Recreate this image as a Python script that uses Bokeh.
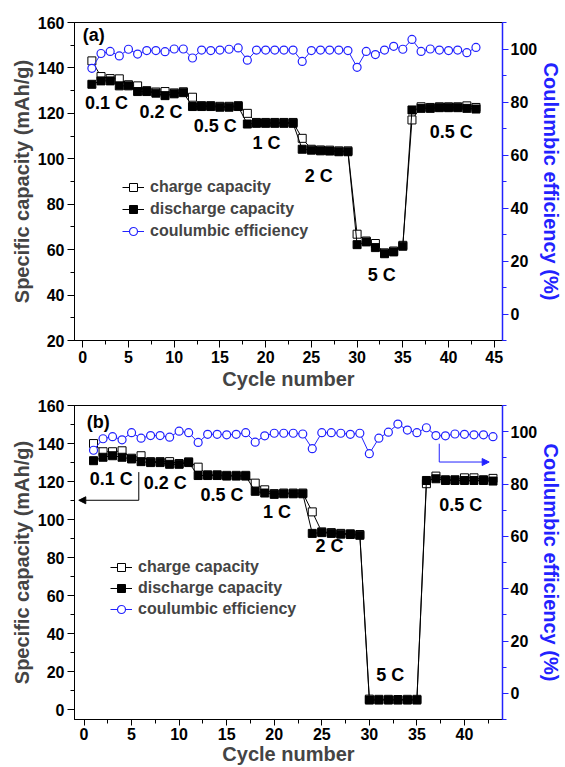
from bokeh.plotting import figure
from bokeh.models import Range1d, LinearAxis, SingleIntervalTicker, Arrow, NormalHead
from bokeh.layouts import column
from bokeh.core.properties import value
from bokeh.embed import file_html
from bokeh.resources import INLINE

cycles = list(range(1, 44))

# ---- panel (a) ----
a_charge = [143.1, 136.2, 135.3, 135.2, 132.6, 132.1, 130.0, 129.4, 129.6, 129.0, 129.5,
            127.1, 123.4, 123.4, 123.1, 123.1, 123.4,
            120.0, 116.0, 116.0, 116.0, 116.0, 116.0,
            109.0, 104.2, 103.9, 103.8, 103.5, 103.5,
            66.8, 63.8, 62.7, 58.6, 59.4, 61.9,
            117.1, 122.9, 122.6, 122.9, 122.9, 122.9, 123.3, 122.6]
a_discharge = [132.8, 134.3, 134.3, 132.1, 132.1, 129.6, 129.6, 128.9, 127.8, 128.6, 129.1,
               123.0, 123.0, 123.0, 122.7, 122.7, 123.0,
               115.3, 115.6, 115.6, 115.6, 115.6, 115.6,
               104.2, 103.8, 103.5, 103.4, 103.1, 103.1,
               62.2, 63.4, 60.9, 58.2, 59.0, 61.5,
               121.5, 122.2, 122.2, 122.5, 122.5, 122.5, 122.2, 121.9]
a_ce = [92.7, 98.3, 99.1, 97.4, 99.9, 98.1, 99.4, 99.4, 99.0, 100.0, 100.0,
        96.6, 99.6, 99.4, 99.6, 99.9, 100.4,
        95.8, 99.6, 99.6, 99.6, 99.6, 99.6,
        95.3, 99.4, 99.6, 99.6, 99.6, 99.4,
        93.1, 99.1, 97.9, 99.6, 101.0, 99.9,
        103.6, 99.1, 100.0, 99.6, 99.4, 99.6, 98.6, 100.6]
a_label_text = ["(a)", "0.1 C", "0.2 C", "0.5 C", "1 C", "2 C", "5 C", "0.5 C"]
a_label_x = [1.2, 2.6, 8.55, 14.5, 20.1, 25.8, 32.7, 40.3]
a_label_y = [154.6, 124.6, 120.6, 114.4, 106.9, 92.4, 48.7, 111.8]

# ---- panel (b) ----
b_charge = [140.0, 135.7, 135.7, 136.2, 132.3, 133.6, 130.5, 130.5, 130.5, 129.5, 130.4,
            127.6, 123.6, 123.6, 123.3, 123.3, 123.3,
            119.2, 115.7, 113.7, 114.0, 114.0, 114.0,
            104.1, 93.6, 93.2, 92.8, 92.6, 92.2,
            5.7, 5.6, 5.6, 5.5, 5.6, 5.6,
            118.9, 122.9, 121.0, 121.0, 122.0, 122.0, 121.0, 121.7]
b_discharge = [131.0, 132.8, 133.6, 132.8, 131.9, 130.5, 130.0, 130.0, 129.1, 129.1, 130.0,
               123.2, 123.2, 123.2, 122.9, 122.9, 122.9,
               114.9, 114.0, 113.3, 113.6, 113.6, 113.6,
               92.8, 93.2, 92.8, 92.4, 92.2, 91.8,
               5.2, 5.2, 5.2, 5.2, 5.2, 5.2,
               120.6, 121.5, 120.6, 120.6, 120.6, 120.6, 120.6, 120.3]
b_ce = [92.9, 97.3, 98.1, 96.9, 99.6, 97.5, 98.5, 98.5, 97.9, 100.2, 99.6,
        95.9, 99.0, 99.0, 98.8, 99.0, 99.6,
        96.0, 98.4, 99.4, 99.4, 99.4, 99.1,
        93.5, 99.6, 99.6, 99.4, 99.0, 99.4,
        91.6, 97.5, 99.8, 102.9, 100.6, 99.6,
        101.5, 98.5, 98.4, 99.1, 99.0, 98.8, 98.8, 98.1]
b_label_text = ["(b)", "0.1 C", "0.2 C", "0.5 C", "1 C", "2 C", "5 C", "0.5 C"]
b_label_x = [1.5, 2.87, 8.55, 14.5, 20.3, 25.8, 32.2, 39.6]
b_label_y = [151.5, 121.4, 119.2, 112.8, 104.1, 86.3, 18.2, 107.6]

# arrows in panel (b): left arrow (capacity axis), right arrow (efficiency axis)
b_arrow_left_x = [5.76, 5.76, -0.55]
b_arrow_left_y = [125.0, 110.2, 110.2]
b_arrow_right_x = [37.35, 37.35, 42.6]
b_arrow_right_y = [95.4, 88.4, 88.4]

FONT = "Liberation Sans"
BLUE = "#2222ff"


def style_axis(ax, color="black"):
    ax.axis_line_color = color
    ax.major_tick_line_color = color
    ax.minor_tick_line_color = color
    ax.major_tick_in = 0
    ax.major_tick_out = 7
    ax.minor_tick_in = 0
    ax.minor_tick_out = 4
    ax.major_label_text_font = FONT
    ax.major_label_text_font_style = "bold"
    ax.major_label_text_font_size = "16px"
    ax.major_label_text_color = "black"
    ax.axis_label_text_font = FONT
    ax.axis_label_text_font_style = "bold"
    ax.axis_label_text_font_size = "20px"
    ax.major_label_standoff = 3
    ax.axis_label_standoff = 2


def panel(xr, yr, height, borders, charge, discharge, ce, ltext, lx, ly, legend_loc, xstandoff):
    left, right, top, bottom = borders
    p = figure(width=565, height=height, output_backend="svg", toolbar_location=None,
               x_range=Range1d(*xr), y_range=Range1d(*yr),
               min_border_left=left, min_border_right=right,
               min_border_top=top, min_border_bottom=bottom)
    p.extra_y_ranges = {"ce": Range1d(-10, 110)}
    p.xgrid.visible = False
    p.ygrid.visible = False
    p.outline_line_color = "black"
    p.background_fill_color = "white"
    p.border_fill_color = "white"

    p.xaxis.ticker = SingleIntervalTicker(interval=5, num_minor_ticks=2)
    p.yaxis.ticker = SingleIntervalTicker(interval=20, num_minor_ticks=2)
    p.xaxis.axis_label = "Cycle number"
    p.yaxis.axis_label = "Specific capacity (mAh/g)"
    for ax in p.xaxis + p.yaxis:
        style_axis(ax)
    for ax in p.xaxis:
        ax.axis_label_standoff = xstandoff

    rax = LinearAxis(y_range_name="ce", axis_label="Coulumbic efficiency (%)",
                     ticker=SingleIntervalTicker(interval=20, num_minor_ticks=2))
    style_axis(rax, BLUE)
    rax.axis_line_width = 1.5
    rax.axis_label_text_color = BLUE
    rax.major_tick_out = 6
    rax.major_label_standoff = 2
    rax.axis_label_standoff = 0
    p.add_layout(rax, "right")

    lc = "black"
    p.line(cycles, charge, line_color=lc, line_width=1, legend_label="charge capacity")
    p.scatter(cycles, charge, marker="square", size=8, line_color="black", fill_color="white",
              line_width=1, legend_label="charge capacity")
    p.line(cycles, discharge, line_color=lc, line_width=1, legend_label="discharge capacity")
    p.scatter(cycles, discharge, marker="square", size=8, line_color="black", fill_color="black",
              legend_label="discharge capacity")
    p.line(cycles, ce, line_color=BLUE, line_width=1, y_range_name="ce",
           legend_label="coulumbic efficiency")
    p.scatter(cycles, ce, marker="circle", size=8, line_color=BLUE, fill_color="white",
              line_width=1.2, y_range_name="ce", legend_label="coulumbic efficiency")

    p.text(lx, ly, text=ltext, text_font=value(FONT), text_font_style="bold",
           text_font_size="18px", text_align="center", text_baseline="middle", text_color="black")

    lg = p.legend[0]
    lg.location = legend_loc
    lg.background_fill_alpha = 0
    lg.border_line_alpha = 0
    lg.padding = 0
    lg.margin = 0
    lg.spacing = 1
    lg.label_height = 20
    lg.glyph_height = 20
    lg.glyph_width = 22
    lg.label_standoff = 6
    lg.label_text_font = FONT
    lg.label_text_font_style = "bold"
    lg.label_text_font_size = "16px"
    return p


pa = panel((-0.9, 45.9), (20, 160), 398, (72, 61, 22, 58), a_charge, a_discharge, a_ce,
           a_label_text, a_label_x, a_label_y, (48, 99), 2)
pa.legend[0].spacing = 2

pb = panel((-1, 44), (-5, 160), 369, (74, 58, 7, 44), b_charge, b_discharge, b_ce,
           b_label_text, b_label_x, b_label_y, (36, 100), 0)
for ax in pb.xaxis:
    ax.major_label_standoff = 2
    ax.major_tick_out = 6

pb.line(b_arrow_left_x[:2], b_arrow_left_y[:2], line_color="black", line_width=1)
pb.add_layout(Arrow(end=NormalHead(size=7, fill_color="black", line_color="black"),
                    x_start=b_arrow_left_x[1], y_start=b_arrow_left_y[1],
                    x_end=b_arrow_left_x[2], y_end=b_arrow_left_y[2],
                    line_color="black", line_width=1))
pb.line(b_arrow_right_x[:2], b_arrow_right_y[:2], line_color=BLUE, line_width=1, y_range_name="ce")
pb.add_layout(Arrow(end=NormalHead(size=7, fill_color=BLUE, line_color=BLUE),
                    x_start=b_arrow_right_x[1], y_start=b_arrow_right_y[1],
                    x_end=b_arrow_right_x[2], y_end=b_arrow_right_y[2],
                    line_color=BLUE, line_width=1, y_range_name="ce"))

layout = column(pa, pb)
open("out.html", "w").write(file_html(layout, INLINE))
